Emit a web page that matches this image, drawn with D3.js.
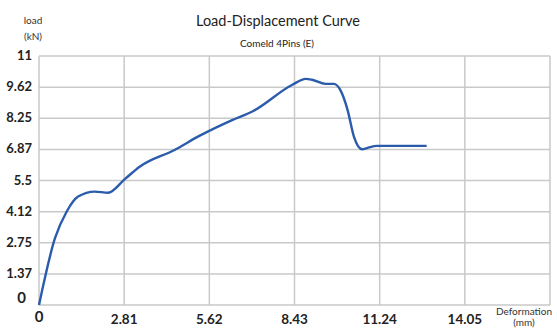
<!DOCTYPE html>
<html>
<head>
<meta charset="utf-8">
<script src="https://cdn.jsdelivr.net/npm/d3@7"></script>
<style>
  html, body { margin: 0; padding: 0; background: #fff; }
  svg { display: block; font-family: Lato, "Open Sans", sans-serif; }
</style>
</head>
<body>
<svg id="chart" width="557" height="329"></svg>
<script>
// Tick labels shown on each axis
const xTicks = [0, 2.81, 5.62, 8.43, 11.24, 14.05, 16.86];
const xTickLabels = ["0", "2.81", "5.62", "8.43", "11.24", "14.05", ""];
const yTicks = [0, 1.375, 2.75, 4.125, 5.5, 6.875, 8.25, 9.625, 11];
const yTickLabels = ["0", "1.37", "2.75", "4.12", "5.5", "6.87", "8.25", "9.62", "11"];

// Measured curve: displacement (mm) and load (kN)
const displacement = [0, 0.53, 0.91, 1.29, 1.84, 2.28, 2.83, 3.32, 4.47, 5.29, 6.39, 7.04,
  8.36, 8.80, 9.01, 9.45, 9.73, 9.94, 10.18, 10.39, 10.66, 10.82, 11.15, 12.79];
const load = [0, 2.96, 4.12, 4.79, 5.01, 4.96, 5.56, 6.11, 6.85, 7.47, 8.18, 8.55,
  9.73, 9.99, 9.95, 9.77, 9.77, 9.50, 8.62, 7.44, 6.88, 6.93, 7.03, 7.03];

const svg = d3.select("#chart");
const m = { left: 39, right: 550, top: 56, bottom: 305 };

const x = d3.scaleLinear().domain([0, 16.86]).range([m.left, m.right]);
const y = d3.scaleLinear().domain([0, 11]).range([m.bottom, m.top]);

// Grid
const grid = svg.append("g").attr("stroke", "#c9c9c9").attr("stroke-width", 1.5);
grid.selectAll("line.v").data(xTicks).join("line")
  .attr("x1", d => x(d)).attr("x2", d => x(d))
  .attr("y1", m.top).attr("y2", m.bottom);
grid.selectAll("line.h").data(yTicks).join("line")
  .attr("x1", m.left).attr("x2", m.right)
  .attr("y1", d => y(d)).attr("y2", d => y(d));

// Y tick labels
svg.append("g").selectAll("text").data(yTicks).join("text")
  .attr("x", (d, i) => i === 0 ? 26 : 32)
  .attr("y", d => y(d) + (d === 0 ? -2 : 4))
  .attr("text-anchor", "end")
  .attr("font-size", (d, i) => i === 0 ? 15 : 13)
  .attr("font-weight", "bold")
  .attr("fill", "#222")
  .text((d, i) => yTickLabels[i]);

// X tick labels
svg.append("g").selectAll("text").data(xTicks).join("text")
  .attr("x", d => x(d))
  .attr("y", (d, i) => i === 0 ? 322 : 324)
  .attr("text-anchor", "middle")
  .attr("font-size", (d, i) => i === 0 ? 15 : 13.5)
  .attr("font-weight", "bold")
  .attr("fill", "#222")
  .text((d, i) => xTickLabels[i]);

// Axis titles
svg.append("text").attr("x", 33).attr("y", 24).attr("text-anchor", "middle")
  .attr("font-size", 10).attr("fill", "#333").text("load");
svg.append("text").attr("x", 33).attr("y", 40).attr("text-anchor", "middle")
  .attr("font-size", 10).attr("fill", "#333").text("(kN)");
svg.append("text").attr("x", 524).attr("y", 315).attr("text-anchor", "middle")
  .attr("font-size", 10).attr("fill", "#333").text("Deformation");
svg.append("text").attr("x", 524).attr("y", 326).attr("text-anchor", "middle")
  .attr("font-size", 10).attr("fill", "#333").text("(mm)");

// Titles
svg.append("text").attr("x", 278).attr("y", 26).attr("text-anchor", "middle")
  .attr("font-size", 14.5).attr("fill", "#222").text("Load-Displacement Curve");
svg.append("text").attr("x", 277).attr("y", 47).attr("text-anchor", "middle")
  .attr("font-size", 10).attr("fill", "#222").text("Comeld 4Pins (E)");

// Curve
const pts = displacement.map((d, i) => [d, load[i]]);
svg.append("path")
  .datum(pts)
  .attr("fill", "none")
  .attr("stroke", "#2b5cab")
  .attr("stroke-width", 2.4)
  .attr("d", d3.line().x(d => x(d[0])).y(d => y(d[1])).curve(d3.curveMonotoneX));
</script>
</body>
</html>
